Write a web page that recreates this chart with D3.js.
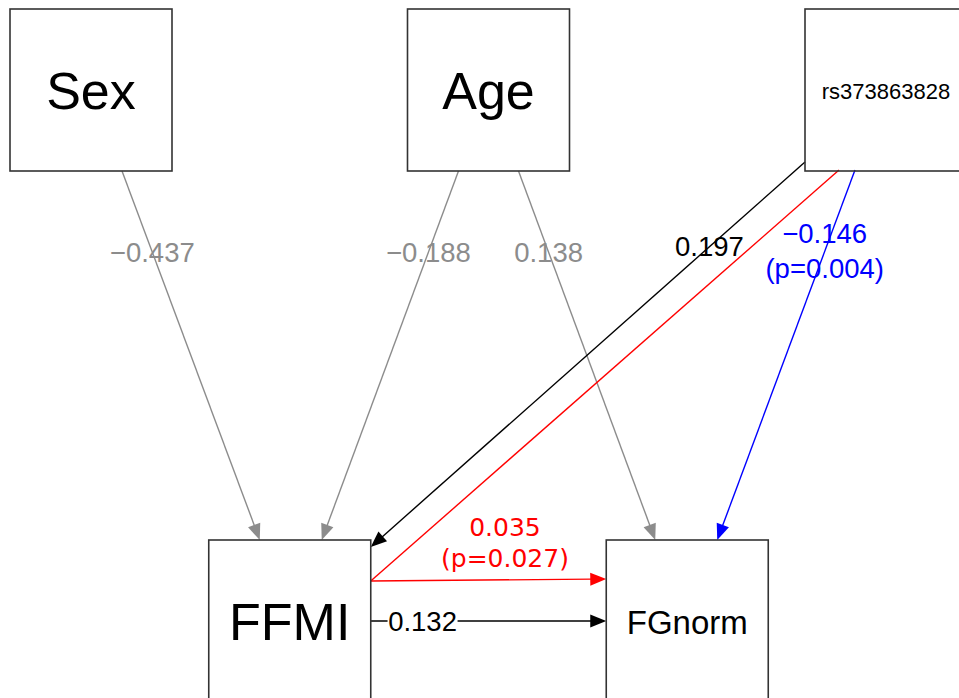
<!DOCTYPE html>
<html>
<head>
<meta charset="utf-8">
<script src="https://cdn.jsdelivr.net/npm/d3@7"></script>
<style>
  html, body { margin: 0; padding: 0; background: #fff; }
  svg { display: block; }
</style>
</head>
<body>
<svg id="chart" width="959" height="698"></svg>
<script>
// ---------------- DATA ----------------
const nodeNames = ["Sex", "Age", "rs373863828", "FFMI", "FGnorm"];

const edgeFrom  = ["Sex", "Age", "Age", "rs373863828", "rs373863828", "FFMI"];
const edgeTo    = ["FFMI", "FFMI", "FGnorm", "FFMI", "FGnorm", "FGnorm"];
const edgeCoef  = [-0.437, -0.188, 0.138, 0.197, -0.146, 0.132];
const edgePval  = [null, null, null, null, 0.004, null];

const indirectPath = ["rs373863828", "FFMI", "FGnorm"];
const indirectCoef = 0.035;
const indirectPval = 0.027;

// ---------------- LAYOUT / STYLE (not data) ----------------
const layout = {
  Sex:         { col: 0,   row: 0, font: 52, family: "Liberation Sans, Arial, sans-serif" },
  Age:         { col: 1,   row: 0, font: 52, family: "Liberation Sans, Arial, sans-serif" },
  rs373863828: { col: 2,   row: 0, font: 22, family: "Liberation Sans, Arial, sans-serif" },
  FFMI:        { col: 0.5, row: 1, font: 52, family: "Liberation Sans, Arial, sans-serif" },
  FGnorm:      { col: 1.5, row: 1, font: 33, family: "Liberation Sans, Arial, sans-serif" }
};
// anchor offsets from box centre (source, target) and colours per edge index
const edgeStyle = [
  { s: [31, 81],  t: [-30, -81], color: "#8c8c8c" },
  { s: [-30, 81], t: [32, -81],  color: "#8c8c8c" },
  { s: [30, 81],  t: [-32, -81], color: "#8c8c8c" },
  { s: [-81, 72], t: [81, -74],  color: "#000000" },
  { s: [-31, 80], t: [30, -81],  color: "#0000ff" },
  { s: [81, 0],   t: [-81, 0],   color: "#000000", labelBg: true }
];
const indirectAnchors = [[-47, 80], [81, -40], [-81, -42]];
const indirectColor = "#ff0000";

const BOX = 162;
const x = d3.scaleLinear().domain([0, 2]).range([91, 886]);
const y = d3.scaleLinear().domain([0, 1]).range([90, 621]);

const fmt = d3.format(".3f");
const pfmt = p => "(p=" + d3.format(".3f")(p) + ")";

const svg = d3.select("#chart");
svg.append("rect").attr("width", 959).attr("height", 698).attr("fill", "#fff");

const center = name => [x(layout[name].col), y(layout[name].row)];
const anchor = (name, off) => { const c = center(name); return [c[0] + off[0], c[1] + off[1]]; };

const gEdges = svg.append("g");
const gLabels = svg.append("g");
const gNodes = svg.append("g");

const ARROW_L = 16, ARROW_W = 6.5;

function drawArrowLine(g, p0, p1, color, arrow = true) {
  const dx = p1[0] - p0[0], dy = p1[1] - p0[1];
  const len = Math.hypot(dx, dy);
  const ux = dx / len, uy = dy / len;
  const end = arrow ? [p1[0] - ux * ARROW_L * 0.9, p1[1] - uy * ARROW_L * 0.9] : p1;
  g.append("line")
    .attr("x1", p0[0]).attr("y1", p0[1])
    .attr("x2", end[0]).attr("y2", end[1])
    .attr("stroke", color).attr("stroke-width", 1.4);
  if (arrow) {
    const bx = p1[0] - ux * ARROW_L, by = p1[1] - uy * ARROW_L;
    const pts = [
      [p1[0], p1[1]],
      [bx - uy * ARROW_W, by + ux * ARROW_W],
      [bx + uy * ARROW_W, by - ux * ARROW_W]
    ];
    g.append("polygon").attr("points", pts.map(p => p.join(",")).join(" ")).attr("fill", color);
  }
}

// direct edges
edgeFrom.forEach((from, i) => {
  const st = edgeStyle[i];
  const p0 = anchor(from, st.s), p1 = anchor(edgeTo[i], st.t);
  drawArrowLine(gEdges, p0, p1, st.color);
  const t = 0.22;
  const lx = p0[0] + (p1[0] - p0[0]) * t, ly = p0[1] + (p1[1] - p0[1]) * t;
  const lines = [fmt(edgeCoef[i])];
  if (edgePval[i] != null) lines.push(pfmt(edgePval[i]));
  const gap = 35;
  lines.forEach((txt, k) => {
    const yy = ly + (k - (lines.length - 1) / 2) * gap;
    if (st.labelBg) {
      gLabels.append("rect")
        .attr("x", lx - 35).attr("y", yy - 14).attr("width", 70).attr("height", 28)
        .attr("fill", "#fff");
    }
    gLabels.append("text")
      .attr("x", lx).attr("y", yy)
      .attr("text-anchor", "middle").attr("dominant-baseline", "central")
      .attr("font-family", "Liberation Sans, Arial, sans-serif")
      .attr("font-size", 27.5)
      .attr("fill", st.color)
      .text(txt);
  });
});

// indirect path
const ip = indirectPath.map((n, i) => anchor(n, indirectAnchors[i]));
drawArrowLine(gEdges, ip[0], ip[1], indirectColor, false);
drawArrowLine(gEdges, ip[1], ip[2], indirectColor, true);
{
  const t = 0.57;
  const lx = ip[1][0] + (ip[2][0] - ip[1][0]) * t;
  const ly = ip[1][1] + (ip[2][1] - ip[1][1]) * t;
  [fmt(indirectCoef), pfmt(indirectPval)].forEach((txt, k) => {
    gLabels.append("text")
      .attr("x", lx).attr("y", ly - 52 + k * 31)
      .attr("text-anchor", "middle").attr("dominant-baseline", "central")
      .attr("font-family", "DejaVu Sans, sans-serif")
      .attr("font-size", 25)
      .attr("fill", indirectColor)
      .text(txt);
  });
}

// nodes
nodeNames.forEach(name => {
  const [cx, cy] = center(name);
  gNodes.append("rect")
    .attr("x", cx - BOX / 2).attr("y", cy - BOX / 2)
    .attr("width", BOX).attr("height", BOX)
    .attr("fill", "none").attr("stroke", "#333").attr("stroke-width", 1.6);
  gNodes.append("text")
    .attr("x", cx).attr("y", cy + 1)
    .attr("text-anchor", "middle").attr("dominant-baseline", "central")
    .attr("font-family", layout[name].family)
    .attr("font-size", layout[name].font)
    .attr("fill", "#000")
    .text(name);
});
</script>
</body>
</html>
